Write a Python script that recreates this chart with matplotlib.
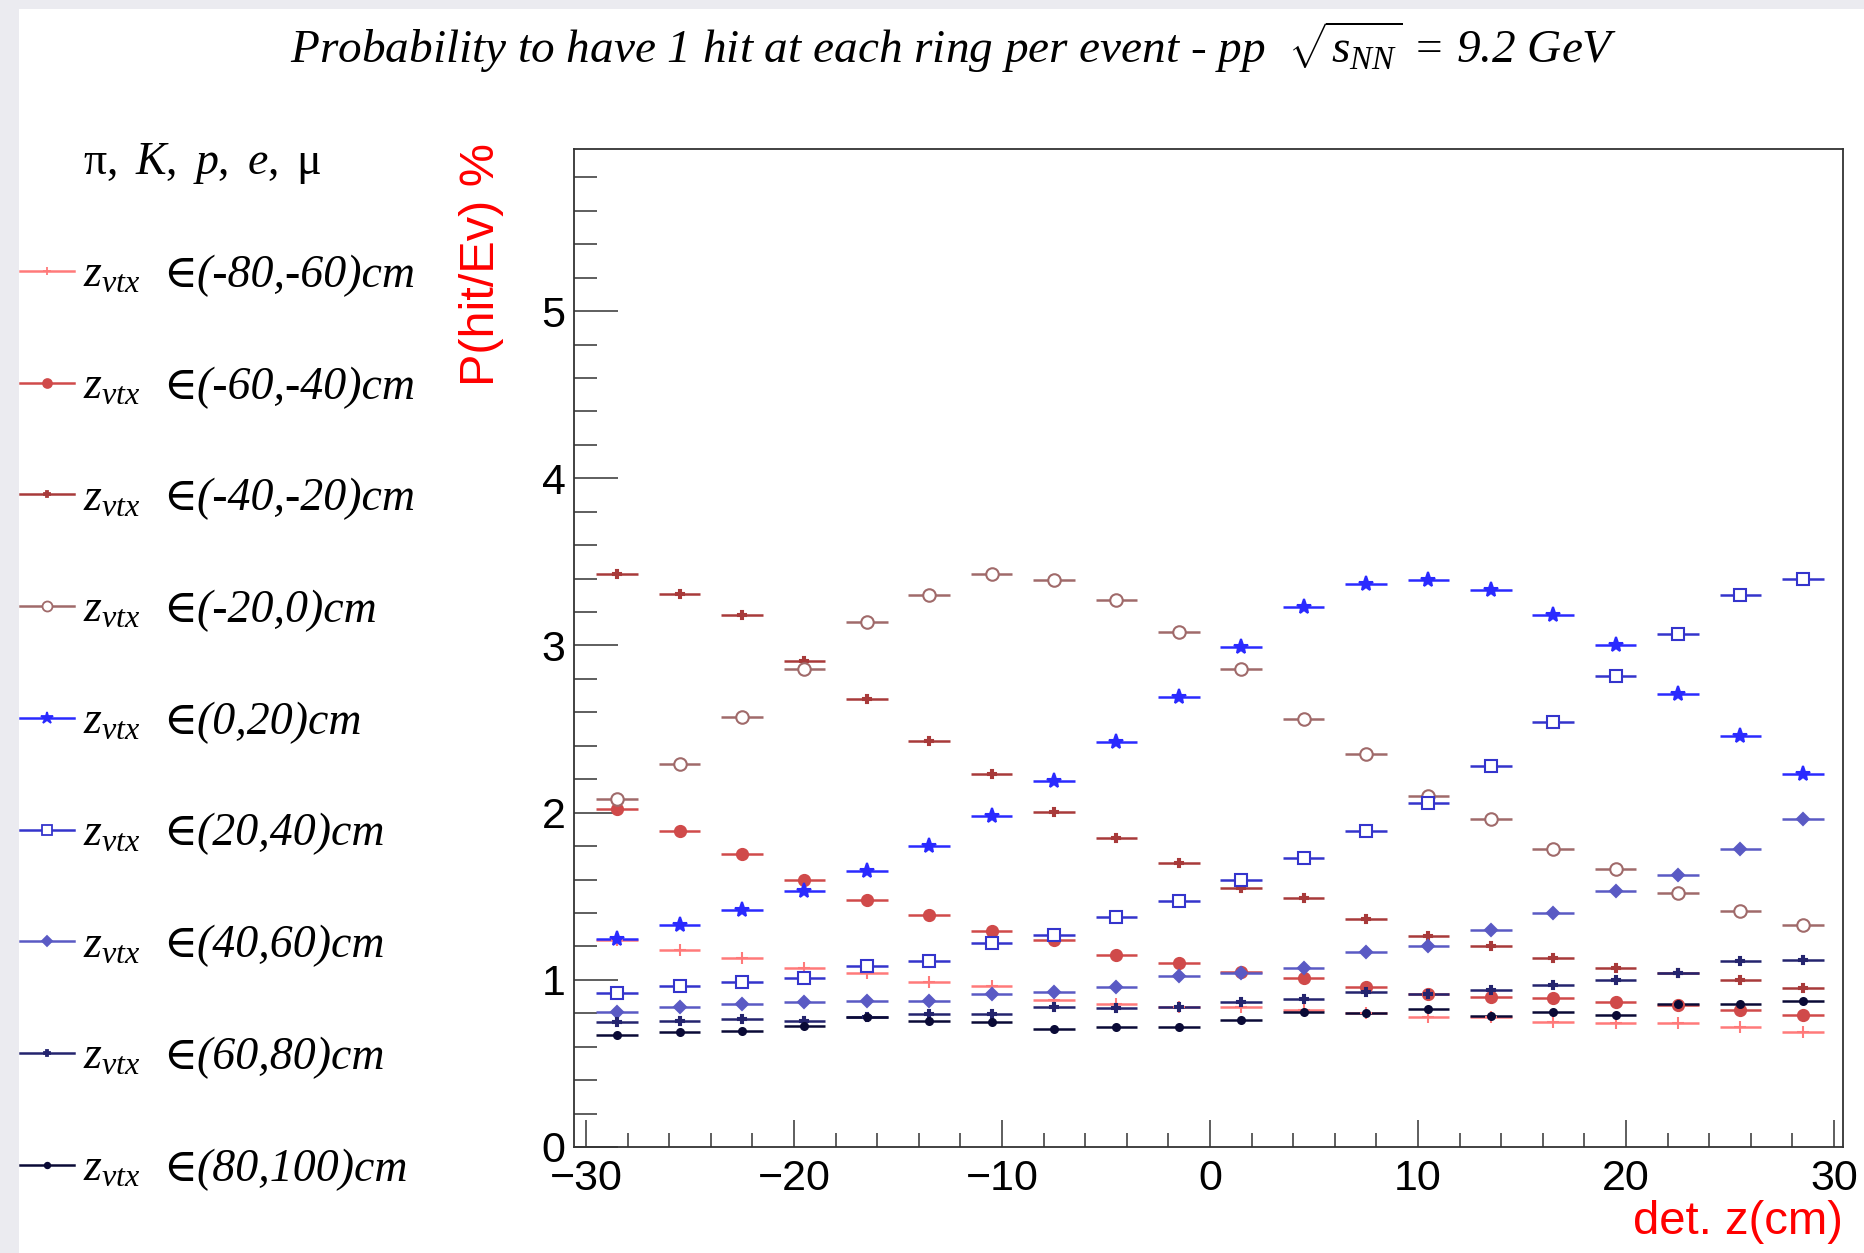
import matplotlib
matplotlib.use("Agg")
import matplotlib.pyplot as plt
from matplotlib.lines import Line2D
from matplotlib.patches import Rectangle
from matplotlib.ticker import MultipleLocator

# fonts: helvetica-ish for axes, times-ish for the latex bits
plt.rcParams['font.family'] = ['Liberation Sans', 'DejaVu Sans']
plt.rcParams['mathtext.fontset'] = 'custom'
plt.rcParams['mathtext.rm'] = 'Liberation Serif'
plt.rcParams['mathtext.it'] = 'Liberation Serif:italic'

# Data
z_det = [-28.5, -25.5, -22.5, -19.5, -16.5, -13.5, -10.5, -7.5, -4.5, -1.5,
         1.5, 4.5, 7.5, 10.5, 13.5, 16.5, 19.5, 22.5, 25.5, 28.5]
z_half_width = 1.0

p_m80_m60 = [1.24, 1.18, 1.13, 1.07, 1.04, 0.99, 0.965, 0.88, 0.855, 0.84,
             0.835, 0.82, 0.80, 0.775, 0.78, 0.75, 0.74, 0.74, 0.715, 0.69]
p_m60_m40 = [2.02, 1.89, 1.75, 1.595, 1.48, 1.39, 1.29, 1.24, 1.15, 1.10,
             1.045, 1.01, 0.96, 0.915, 0.90, 0.89, 0.865, 0.85, 0.82, 0.79]
p_m40_m20 = [3.43, 3.31, 3.18, 2.91, 2.68, 2.43, 2.23, 2.005, 1.85, 1.70,
             1.55, 1.49, 1.365, 1.265, 1.205, 1.13, 1.07, 1.04, 1.00, 0.95]
p_m20_0 = [2.08, 2.29, 2.57, 2.86, 3.14, 3.30, 3.43, 3.39, 3.27, 3.08,
           2.86, 2.56, 2.35, 2.10, 1.96, 1.78, 1.66, 1.52, 1.41, 1.33]
p_0_20 = [1.245, 1.33, 1.42, 1.53, 1.65, 1.80, 1.98, 2.19, 2.42, 2.69,
          2.99, 3.23, 3.37, 3.39, 3.33, 3.18, 3.005, 2.71, 2.46, 2.23]
p_20_40 = [0.92, 0.965, 0.99, 1.01, 1.08, 1.11, 1.22, 1.27, 1.375, 1.47,
           1.60, 1.73, 1.89, 2.06, 2.28, 2.54, 2.82, 3.07, 3.30, 3.40]
p_40_60 = [0.81, 0.835, 0.855, 0.87, 0.875, 0.875, 0.915, 0.93, 0.96, 1.02,
           1.04, 1.07, 1.165, 1.20, 1.30, 1.40, 1.53, 1.63, 1.78, 1.96]
p_60_80 = [0.745, 0.755, 0.765, 0.755, 0.78, 0.795, 0.795, 0.835, 0.83, 0.84,
           0.87, 0.885, 0.93, 0.915, 0.94, 0.97, 1.00, 1.04, 1.11, 1.12]
p_80_100 = [0.67, 0.685, 0.695, 0.725, 0.775, 0.755, 0.745, 0.705, 0.72, 0.72,
            0.76, 0.81, 0.80, 0.825, 0.785, 0.81, 0.79, 0.855, 0.855, 0.875]

all_series = [p_m80_m60, p_m60_m40, p_m40_m20, p_m20_0, p_0_20,
              p_20_40, p_40_60, p_60_80, p_80_100]
ranges = ['(-80,-60)cm', '(-60,-40)cm', '(-40,-20)cm', '(-20,0)cm', '(0,20)cm',
          '(20,40)cm', '(40,60)cm', '(60,80)cm', '(80,100)cm']

# styles (one per vertex bin)
colors = ['#ff7a7a', '#d04a4a', '#a83a3a', '#a06a6a', '#2a2aff',
          '#3434cc', '#5a5ac4', '#24246e', '#0a0a36']
markers = ['+', 'o', 'P', 'o', '*', 's', 'D', 'P', 'o']
msizes = [8, 8, 6, 9, 11, 9, 6, 6, 5]
hollow = [False, False, False, True, False, True, False, False, False]

W, H = 1864, 1253
def fx(px):
    return px / W
def fy(py):
    return 1 - py / H

fig = plt.figure(figsize=(W / 100, H / 100), dpi=100, facecolor='#ebebf0')
fig.add_artist(Rectangle((fx(19), 0), 1, fy(9), transform=fig.transFigure,
                         facecolor='white', edgecolor='none', zorder=0))

ax = fig.add_axes([fx(574), fy(1147), (1843 - 574) / W, (1147 - 149) / H])

for vals, c, m, ms, h in zip(all_series, colors, markers, msizes, hollow):
    ax.errorbar(z_det, vals, xerr=z_half_width, marker=m, linestyle='none',
                color=c, ms=ms, mfc='white' if h else c, mec=c, mew=1.5,
                elinewidth=1.8, capsize=0)

ax.set_xlim(-30.58, 30.43)
ax.set_ylim(0, 5.97)
ax.xaxis.set_major_locator(MultipleLocator(10))
ax.xaxis.set_minor_locator(MultipleLocator(2))
ax.yaxis.set_major_locator(MultipleLocator(1))
ax.yaxis.set_minor_locator(MultipleLocator(0.2))
ax.tick_params(which='both', direction='in', top=False, right=False, color='#333333')
ax.tick_params(axis='y', which='major', length=31.5, width=1.1, pad=6, labelsize=31)
ax.tick_params(axis='y', which='minor', length=16.5, width=1.1)
ax.tick_params(axis='x', which='major', length=19.5, width=1.1, pad=9, labelsize=31)
ax.tick_params(axis='x', which='minor', length=10, width=1.1)
for s in ax.spines.values():
    s.set_linewidth(1.3)
    s.set_color('#333333')

# axis titles, ROOT style (red, at the ends)
fig.text(fx(481), fy(143), 'P(hit/Ev) %', rotation=90, ha='center', va='top',
         color='red', fontsize=35)
fig.text(fx(1843), fy(1222), 'det. z(cm)', ha='right', va='center',
         color='red', fontsize=34)

# title
serif_it = dict(family=['Liberation Serif', 'DejaVu Serif'], style='italic')
fig.text(fx(954), fy(47),
         r'Probability to have 1 hit at each ring per event - pp  $\sqrt{s_{NN}}$ = 9.2 GeV',
         ha='center', va='center', fontsize=34, **serif_it)

# legend on the left, built by hand
fig.text(fx(83), fy(163), r'$\mathrm{\pi},\ K,\ p,\ e,\ \mathrm{\mu}$',
         ha='left', va='center', fontsize=33)
for i, (lab, c, m, ms, h) in enumerate(zip(ranges, colors, markers, msizes, hollow)):
    yl = 271 + i * 111.7
    fig.add_artist(Line2D([fx(20), fx(74)], [fy(yl), fy(yl)], color=c, lw=1.8,
                          transform=fig.transFigure))
    fig.add_artist(Line2D([fx(47)], [fy(yl)], color=c, marker=m, ms=ms * 0.8,
                          mfc='white' if h else c, mec=c, mew=1.3,
                          transform=fig.transFigure))
    fig.text(fx(83), fy(yl + 16), r'$z_{vtx}$', ha='left', va='baseline', fontsize=33)
    fig.text(fx(163), fy(yl + 16), '\u2208' + lab, ha='left', va='baseline',
             fontsize=33, **serif_it)

fig.savefig('out.png', dpi=100, facecolor=fig.get_facecolor())
